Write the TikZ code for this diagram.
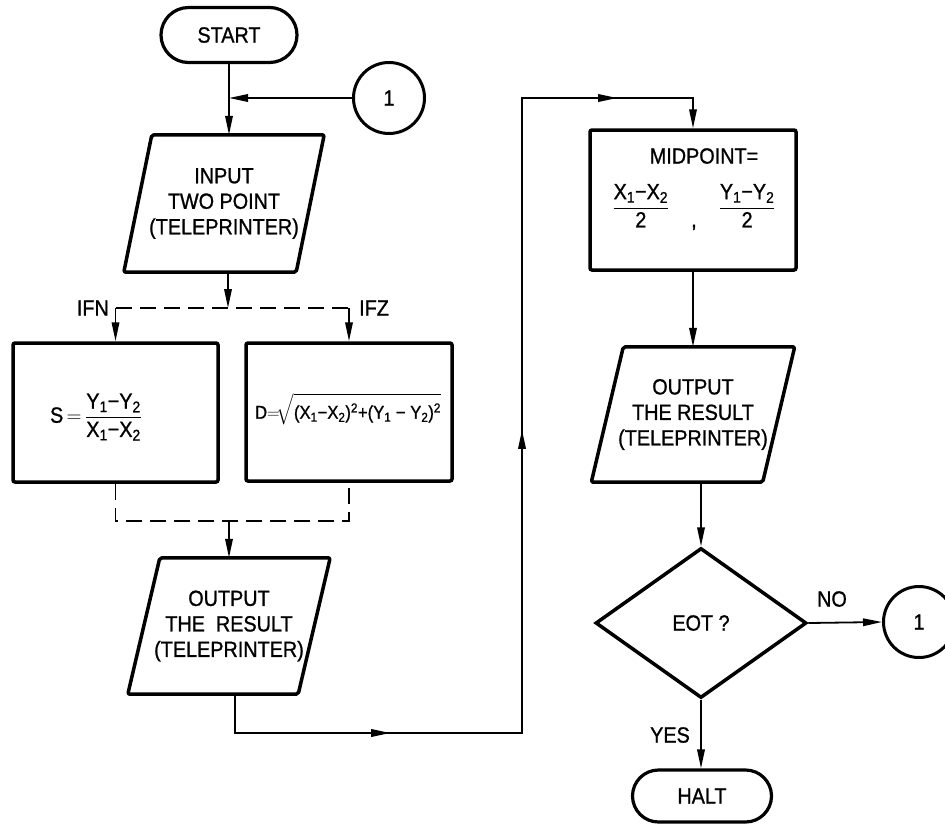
\documentclass[tikz,border=0pt]{standalone}
\usepackage{fontspec}
\setmainfont{Liberation Sans}[FakeStretch=0.9,FakeBold=1]
\usepackage{amsmath}
\usetikzlibrary{shapes.geometric,shapes.misc,arrows.meta,decorations.markings,calc}
\newcommand\sbs[1]{\textsubscript{#1}}
\newcommand\sps[1]{\textsuperscript{#1}}
\newcommand\iobox[2]{%
  \draw[boxline] ([xshift=#2]#1.north west) -- ([xshift=#2]#1.north east) -- ([xshift=-#2]#1.south east) -- ([xshift=-#2]#1.south west) -- cycle;}
\tikzset{
  every node/.style={font=\fontsize{22}{25.5}\selectfont},
  boxline/.style={line width=3.5pt, line join=round, rounded corners=2pt},
  term/.style={draw, rounded rectangle, line width=3.2pt, inner sep=0pt},
  proc/.style={draw, line width=3.5pt, rounded corners=2pt, inner sep=0pt},
  iob/.style={inner sep=0pt, align=center},
  conn/.style={draw, circle, line width=3pt, minimum size=71pt, inner sep=0pt},
  dia/.style={draw, diamond, line width=3.5pt, minimum width=211pt, minimum height=150pt, inner sep=0pt},
  tip/.tip={Triangle[length=19pt,width=7.5pt]},
  conline/.style={line width=1.8pt},
  arr/.style={conline, -tip},
  dashline/.style={conline, dash pattern=on 16pt off 8pt},
  lbl/.style={inner sep=0pt},
  loopline/.style={conline, -tip, postaction=decorate,
    decoration={markings,
      mark=at position 194pt with {\arrow{tip}},
      mark=at position 629pt with {\arrow{tip}},
      mark=at position 1056pt with {\arrow{tip}}}}
}
\begin{document}
\begin{tikzpicture}[x=1pt,y=-1pt]
\useasboundingbox (0,0) rectangle (945,823);

% nodes
\node[term, minimum width=136pt, minimum height=55pt] (start) at (229,35) {START};
\node[conn] (c1) at (389,98) {1};
\node[iob, minimum width=172pt, minimum height=137pt] (in) at (224,203.5) {INPUT\\TWO POINT\\(TELEPRINTER)};
\iobox{in}{14pt}

\node[proc, minimum width=205pt, minimum height=139pt] (sbox) at (115.5,412.5) {};
\node[lbl] (sform) at (96,417) {$\text{S}\,{=}\,\dfrac{\text{Y\sbs{1}−Y\sbs{2}}}{\text{X\sbs{1}−X\sbs{2}}}$};

\node[proc, minimum width=206pt, minimum height=138pt] (dbox) at (349,412) {};
\node[lbl, font=\fontsize{18.5}{22}\selectfont] (dform) at (348,409) {$\text{D}{=}\!\sqrt{\rule{0pt}{21pt}\text{(X\sbs{1}−X\sbs{2})\sps{2}+(Y\sbs{1} − Y\sbs{2})\sps{2}}}$};

\node[iob, minimum width=170pt, minimum height=136pt] (out1) at (229,626) {OUTPUT\\THE~ RESULT\\(TELEPRINTER)};
\iobox{out1}{16pt}

\node[proc, minimum width=206pt, minimum height=140pt] (mid) at (693,200) {};
\node[lbl] (midlabel) at (704,156) {MIDPOINT=};
\node[lbl] (midfrac) at (694,207) {$\dfrac{\text{X\sbs{1}−X\sbs{2}}}{\text{2}}\quad\raisebox{-14pt}{,}\quad\dfrac{\text{Y\sbs{1}−Y\sbs{2}}}{\text{2}}$};

\node[iob, minimum width=171pt, minimum height=135pt] (out2) at (693,414.5) {OUTPUT\\THE RESULT\\(TELEPRINTER)};
\iobox{out2}{16pt}

\node[dia] (dia) at (701,623) {EOT ?};
\node[conn] (c2) at (919,622) {1};
\node[term, minimum width=139pt, minimum height=52pt] (halt) at (702,796) {HALT};

% connectors
\draw[arr] (start.south) -- (start.south |- in.north);
\draw[arr] (c1.west) -- (start.south |- c1.west);

\coordinate (split) at (228,308);
\draw[arr] (in.south -| split) -- (split);
\draw[dashline] (sbox.north |- split) -- (dbox.north |- split);
\draw[arr] (sbox.north |- split) -- (sbox.north);
\draw[arr] (dbox.north |- split) -- (dbox.north);
\node[lbl, anchor=east] (ifn) at (109,308) {IFN};
\node[lbl, anchor=west] (ifz) at (359,308) {IFZ};

\coordinate (merge) at (233,521);
\draw[dashline] (sbox.south) -- (sbox.south |- merge) -- (dbox.south |- merge) -- (dbox.south);
\draw[arr] (out1.north |- merge) -- (out1.north);

\coordinate (b1) at (235,733);
\coordinate (b2) at (522,733);
\coordinate (b3) at (522,98);
\draw[loopline] (out1.south -| b1) -- (b1) -- (b2) -- (b3) -- (mid.north |- b3) -- (mid.north);

\draw[arr] (mid.south) -- (out2.north);
\draw[arr] (dia.north |- out2.south) -- (dia.north);
\draw[arr] (dia.east) -- (c2.west);
\node[lbl] (no) at (832,599) {NO};
\draw[arr] (dia.south) -- (dia.south |- halt.north);
\node[lbl] (yes) at (670,735) {YES};
\end{tikzpicture}
\end{document}
